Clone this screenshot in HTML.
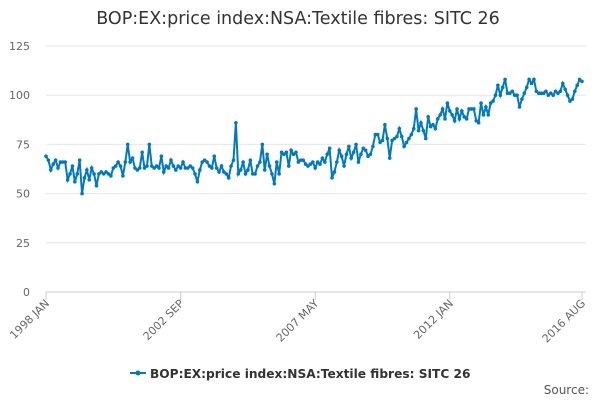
<!DOCTYPE html>
<html><head><meta charset="utf-8"><style>
body{margin:0;background:#fff;font-family:"DejaVu Sans",sans-serif}
svg text{font-family:"DejaVu Sans",sans-serif}
</style></head><body>
<svg id="chart" width="600" height="400" xmlns="http://www.w3.org/2000/svg">
<text x="298" y="24" text-anchor="middle" font-size="17.5" fill="#333">BOP:EX:price index:NSA:Textile fibres: SITC 26</text>
<g id="grid"></g><g id="xaxis"></g><g id="series"></g>
<g>
<line x1="130" y1="373" x2="146" y2="373" stroke="#0079c0" stroke-width="2"/>
<circle cx="138" cy="373" r="2.5" fill="#0079c0"/>
<text x="150" y="378" font-size="12.2" font-weight="bold" fill="#333">BOP:EX:price index:NSA:Textile fibres: SITC 26</text>
</g>
<text x="589" y="394" text-anchor="end" font-size="12" fill="#555">Source:</text>
</svg>
<script>
const yTicks=[0,25,50,75,100,125];
const xTickIdx=[0,56,112,168,223];
const xTickLabels=["1998 JAN","2002 SEP","2007 MAY","2012 JAN","2016 AUG"];
const values=[
69,67,62,65,67,63,66,66,66,57,60,64,
56,60,67,50,58,62,57,63,60,54,60,61,
60,61,60,59,63,64,66,64,59,66,75,66,
68,63,62,63,71,63,64,75,64,63,64,63,
69,61,64,63,67,64,62,64,63,66,63,63,
64,63,60,56,62,66,67,66,64,63,69,63,
61,64,61,60,58,64,67,86,60,62,66,60,
62,67,60,60,64,66,75,62,70,64,60,55,
66,60,71,70,71,64,72,70,71,66,67,67,
65,64,65,66,63,66,65,68,66,70,73,58,
61,66,72,69,64,70,74,68,71,75,66,70,
73,72,69,70,74,80,80,76,77,85,78,68,
77,78,79,83,79,74,76,78,80,83,93,82,
86,82,78,89,84,85,83,88,90,93,88,96,
92,90,87,93,88,92,89,88,93,93,93,87,
86,96,90,94,90,96,97,100,105,100,104,108,
101,101,102,100,100,94,98,101,104,108,106,108,
102,101,101,101,102,100,101,100,102,101,102,106,
103,100,97,98,102,105,108,107];
const NS="http://www.w3.org/2000/svg";
const x0=46,x1=582,y0=292,y1=46;
const xs=i=>x0+i*(x1-x0)/(values.length-1);
const ys=v=>y0-v*(y0-y1)/125;
function mk(t,a,p){const e=document.createElementNS(NS,t);for(const k in a)e.setAttribute(k,a[k]);p.appendChild(e);return e;}
const grid=document.getElementById('grid');
yTicks.forEach(t=>{
 const l=mk('line',{x1:x0,x2:x1+4,y1:ys(t),y2:ys(t),stroke:t===0?'#ccc':'#e6e6e6'},grid);
 
 
 const tx=mk('text',{x:30,y:ys(t)+4,'text-anchor':'end','font-size':11,fill:'#666'},grid);
 tx.textContent=t;
 
 
});
const xa=document.getElementById('xaxis');
xTickIdx.forEach((idx,j)=>{
 const x=xs(idx);
 const tk=mk('line',{x1:x,x2:x,y1:y0,y2:y0+8,stroke:'#ccc'},xa);
 
 
 const tx=mk('text',{x:x+4,y:y0+12,'text-anchor':'end','font-size':11,fill:'#666',transform:`rotate(-45 ${x+4} ${y0+12})`},xa);
 tx.textContent=xTickLabels[j];
 
 
});
const s=document.getElementById('series');
const path=mk('polyline',{points:values.map((v,i)=>xs(i)+','+ys(v)).join(' '),fill:'none',stroke:'#0079c0','stroke-width':2},s);


values.forEach((v,i)=>{
 const c=mk('circle',{cx:xs(i),cy:ys(v),r:1.8,fill:'#0079c0'},s);
 
 
});
</script>
</body></html>
